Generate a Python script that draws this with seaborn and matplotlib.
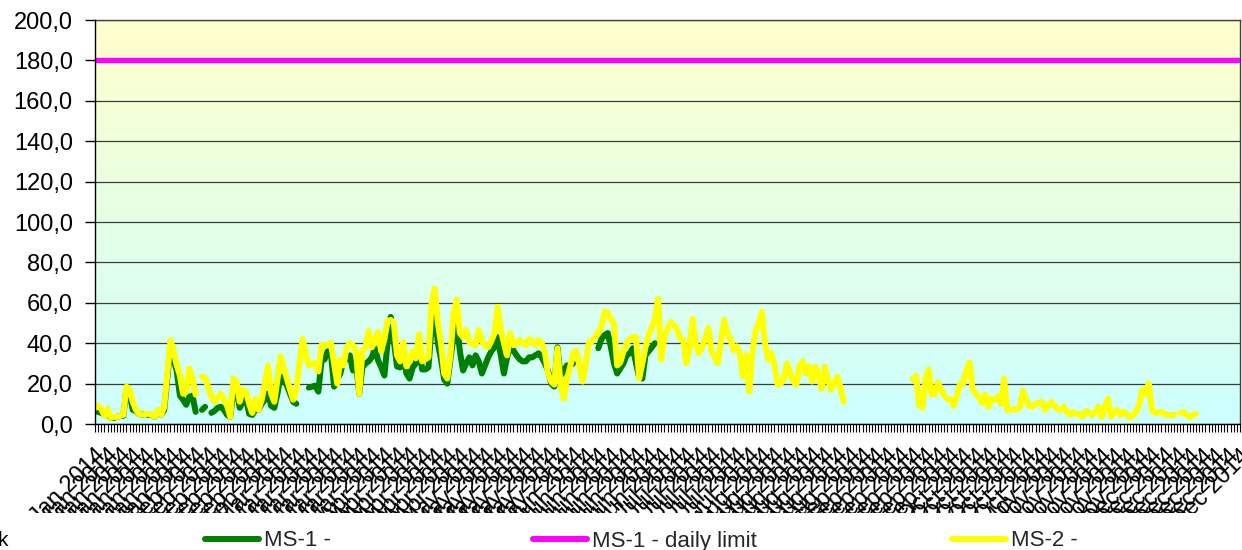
import numpy as np
import pandas as pd
import matplotlib
matplotlib.use("Agg")
import matplotlib.pyplot as plt
import seaborn as sns
from matplotlib.lines import Line2D
from matplotlib.colors import LinearSegmentedColormap
from matplotlib.ticker import FuncFormatter
from matplotlib.transforms import Bbox, TransformedBbox

N = None

# ---------------- data ----------------
dates = pd.date_range("2014-01-01", "2014-12-31", freq="D")
tick_labels = [f"{d.day} {d:%b %Y}" for d in dates]
label_every = 4

series_names = ["MS-1 -", "MS-1 - daily limit", "MS-2 -"]
limit_value = 180.0

ms1 = [
    6.5, 6, 5.5, 4.5, 5.5, 3, 3, 3.5, 4, 4,
    17, 15, 7, 6.5, 5, 4.5, 5, 4.5, 4.5, 3.5,
    6, 4.5, 7, 23, 39, 32, 26, 14, 12, 9.5,
    13.5, 14, 6, N, 7, 8.5, N, 5.5, 6.5, 8,
    8.5, 7, 4.5, 3.5, 16.5, 17, 8, 11, 13, 5,
    4.5, 7, 7, 10, 12, 15, 9, 8, 15, 23.5,
    22, 19, 15, 11, 10, N, N, N, 18, 18.5,
    19, 16, 31.5, 32, 36, 35, 18.5, 22, 25, 31.5,
    32, 34, 26.5, 30, 15, 28, 30, 31, 33, 37.5,
    31.5, 28, 24, 40, 53, 41, 28.5, 28, 34, 25,
    22.5, 28, 30, 38, 27, 27, 28, 48, 55, 40,
    32, 22, 20, 32, 44, 50, 36, 26.5, 30, 33,
    29, 34, 31, 25, 29, 33, 36, 38, 43, 34,
    25, 33, 38, 36.5, 34, 32, 31, 31, 33, 33,
    34, 35, 33, 30, 26.5, 20, 18.5, 38, 24, 26,
    29, 29, 30, N, N, N, N, N, N, N,
    37.5, 42, 44, 45, 38, 30, 25, 27.5, 30, 34,
    35, 37.5, 30, 23, 22.5, 34, 36, 38, 40, N,
] + [N] * 185

ms2 = [
    8, 9, 7.5, 4, 7.5, 3, 3.5, 3.5, 4, 4.5,
    18.5, 17, 11, 7, 5, 4.5, 5, 5, 4.5, 3.5,
    7, 4.5, 8.5, 25, 41.5, 36, 29, 24, 15, 16,
    27.5, 22.5, 14.5, N, 23.5, 23, 18, 13.5, 11, 13,
    15, 12, 9, 3.5, 22.5, 21, 11, 17, 16, 10,
    5.5, 12.5, 7, 12, 20, 29, 15, 11, 22, 33.5,
    28, 22.5, 17, 12, 17, 30, 42, 35, 29, 29.5,
    30, 26, 39, 39, 39.5, 40, 30, 20, 32, 29,
    38, 40, 39, 36, 15, 36, 38, 46, 38, 41,
    45.5, 36, 42, 51, 51.5, 50, 34, 31, 40.5, 28.5,
    32, 36, 32.5, 44.5, 31, 32, 33, 60, 67, 50,
    40, 25, 22.5, 34, 55, 61.5, 45, 43, 46.5, 40.5,
    39.5, 39, 46.5, 41, 39, 38, 41, 45, 58, 47,
    40, 34, 45, 39, 40, 41.5, 40, 39, 42, 41,
    39, 41.5, 40, 36, 25, 21, 19.5, 37.5, 20, 12.5,
    22, 28, 35, 36.5, 29, 21, 30, 40.5, 41, 43,
    45, 48, 55.5, 55, 52, 49.5, 29, 30.5, 36, 40,
    42, 43, 43, 22.5, 30, 38, 44, 48, 51.5, 62,
    32, 43, 47, 50.5, 49, 47, 42.5, 41.5, 30, 37.5,
    52, 39, 35, 38, 42.5, 47.5, 36, 33, 30, 41,
    51.5, 45, 42, 36.5, 38.5, 35, 23.5, 34, 16, 36,
    46, 50, 55.5, 40, 32, 35, 29, 19.5, 20, 22.5,
    30, 25, 21, 19.5, 29, 31, 25, 28.5, 21, 28.5,
    24, 17.5, 28.5, 22, 17, 20, 23.5, 18, 11, N,
    N, N, N, N, N, N, N, N, N, N,
    N, N, N, N, N, N, N, N, N, N,
    22, 24, 9.5, 8, 22, 27, 14.5, 15, 20.5, 17,
    14, 12.5, 12, 9, 14, 20, 20, 26.5, 30.5, 17,
    15, 13.5, 10.5, 14.5, 8.5, 12.5, 12, 13.5, 10, 22.5,
    7, 7, 7, 7.5, 8, 16.5, 12, 9, 8.5, 10,
    10.5, 11, 7, 9, 11, 9, 7.5, 7, 8.5, 6,
    4.5, 6, 5, 4.5, 3.5, 6.5, 5.5, 4.5, 6, 8.5,
    3.5, 8, 12.5, 3.5, 6, 7, 4.5, 6, 5, 3,
    4.5, 6, 10, 17, 15, 20, 7, 5.5, 5.5, 6,
    5, 4.5, 4.5, 4.5, N, 5.5, 6, 4.5, 3.5, 4.5,
    5, N, N, N, N, N, N, N, N, N,
    N, N, N, N, N,
]

colors = {"MS-1 -": "#008000", "MS-1 - daily limit": "#FF00FF", "MS-2 -": "#FFFF00"}

# ---------------- style ----------------
sns.set_theme(style="ticks")
plt.rcParams["font.family"] = ["Liberation Sans", "DejaVu Sans"]

W, H, DPI = 1242, 550, 100
fig = plt.figure(figsize=(W / DPI, H / DPI), dpi=DPI)
L, R, T, B = 95, 1240, 20, 424
ax = fig.add_axes([L / W, 1 - B / H, (R - L) / W, (B - T) / H])

n = len(dates)
days = np.arange(n)

# gradient background (yellow top -> cyan bottom)
cmap = LinearSegmentedColormap.from_list("bg", ["#CCFFFF", "#FFFFCC"])
grad = np.linspace(0, 1, 256).reshape(-1, 1)
ax.imshow(grad, extent=[0, 1, 0, 1], transform=ax.transAxes, origin="lower",
          aspect="auto", cmap=cmap, zorder=0)


def seg_frame(values):
    s = pd.Series(values, dtype=float)
    seg = s.isna().cumsum()
    df = pd.DataFrame({"day": days, "v": s.values, "seg": seg.values}).dropna()
    return df


lw_px = 6.0
lw = lw_px * 72 / DPI

df1 = seg_frame(ms1)
sns.lineplot(data=df1, x="day", y="v", units="seg", estimator=None, sort=False,
             color=colors["MS-1 -"], lw=lw, ax=ax, legend=False, zorder=3,
             solid_capstyle="round", solid_joinstyle="round")

dfl = pd.DataFrame({"day": days, "v": np.full(n, limit_value)})
sns.lineplot(data=dfl, x="day", y="v", estimator=None, color=colors["MS-1 - daily limit"],
             lw=lw * 0.9, ax=ax, legend=False, zorder=3)

df2 = seg_frame(ms2)
sns.lineplot(data=df2, x="day", y="v", units="seg", estimator=None, sort=False,
             color=colors["MS-2 -"], lw=lw, ax=ax, legend=False, zorder=4,
             solid_capstyle="round", solid_joinstyle="round")

ax.set_xlim(0, n - 1)
ax.set_ylim(0, 200)
ax.set_xlabel("")
ax.set_ylabel("")

# y axis
ax.set_yticks(np.arange(0, 201, 20))
ax.yaxis.set_major_formatter(FuncFormatter(lambda v, p: f"{v:.1f}".replace(".", ",")))
ax.tick_params(axis="y", direction="out", length=7, width=1, color="#000000",
               labelsize=17, pad=9, labelcolor="#000000")
ax.yaxis.grid(True, color="#3c3c3c", lw=0.9)
ax.set_axisbelow(True)

# x axis: a tick every day, a label every 4th day
ax.set_xticks(days)
ax.set_xticklabels([tick_labels[i] if i % label_every == 0 else "" for i in days],
                   rotation=45, ha="right", va="top", rotation_mode="anchor")
ax.tick_params(axis="x", direction="out", length=6, width=0.8, color="#000000",
               labelsize=17, pad=9, labelcolor="#000000")

clip = TransformedBbox(Bbox([[0, 1 - 513 / H], [1, 1]]), fig.transFigure)
for lab in ax.get_xticklabels():
    lab.set_clip_box(clip)
    lab.set_clip_on(True)

for side, sp in ax.spines.items():
    sp.set_visible(True)
    sp.set_color("#000000" if side in ("left", "bottom") else "#404040")
    sp.set_linewidth(1.0)
ax.spines["left"].set_zorder(5)
ax.spines["bottom"].set_zorder(5)

# legend entries at the bottom
leg_x = [205, 533, 952]
for name, x in zip(series_names, leg_x):
    h = Line2D([0], [0], color=colors[name], lw=lw)
    fig.legend(handles=[h], labels=[name], loc="center left",
               bbox_to_anchor=(x / W, 1 - 541 / H), frameon=False,
               borderpad=0, borderaxespad=0, handlelength=2.45,
               handletextpad=0.2, fontsize=16)

fig.text(-0.002, 1 - 546 / H, "k", fontsize=15, color="#000000")

fig.savefig("out.png", dpi=DPI)
